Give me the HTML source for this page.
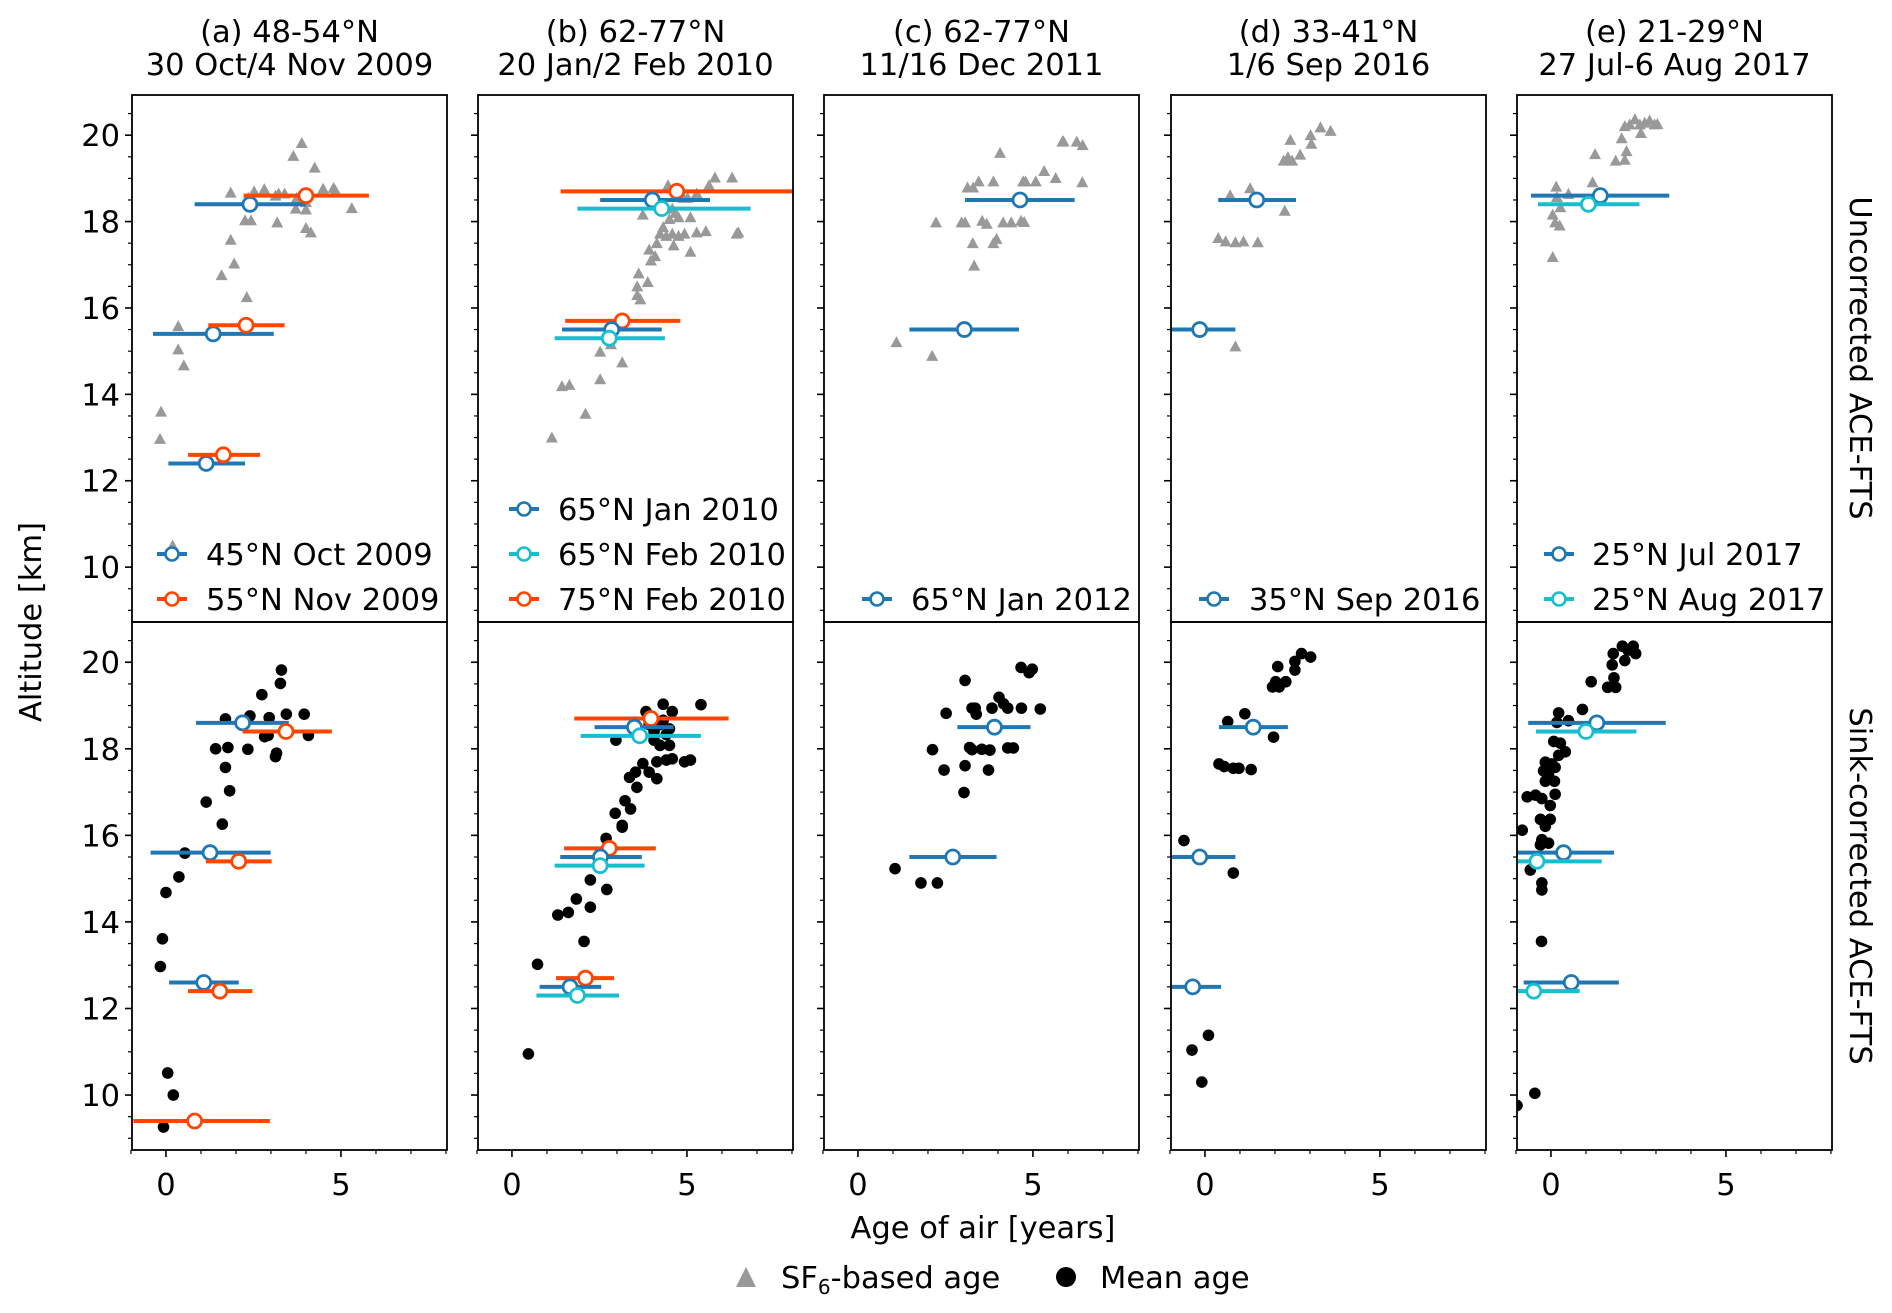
<!DOCTYPE html>
<html><head><meta charset="utf-8">
<style>
html,body{margin:0;padding:0;background:#fff;}
svg{display:block;font-family:"DejaVu Sans","Liberation Sans",sans-serif;}
</style></head>
<body>
<svg id="fig" width="1892" height="1313" viewBox="0 0 1892 1313" xmlns="http://www.w3.org/2000/svg"></svg>
<script>
// ---------- data ----------
const panelTitles1 = ["(a) 48-54°N","(b) 62-77°N","(c) 62-77°N","(d) 33-41°N","(e) 21-29°N"];
const panelTitles2 = ["30 Oct/4 Nov 2009","20 Jan/2 Feb 2010","11/16 Dec 2011","1/6 Sep 2016","27 Jul-6 Aug 2017"];
const xTicks = [0,5];
const yTicks = [10,12,14,16,18,20];
const seriesColors = {b:"#1f77b4", c:"#17becf", o:"#ff4500"};
const legendLabels = [
  [["b","45°N Oct 2009"],["o","55°N Nov 2009"]],
  [["b","65°N Jan 2010"],["c","65°N Feb 2010"],["o","75°N Feb 2010"]],
  [["b","65°N Jan 2012"]],
  [["b","35°N Sep 2016"]],
  [["b","25°N Jul 2017"],["c","25°N Aug 2017"]]
];
// SF6 triangles (top row)
const triX_a = [3.88,3.64,4.25,1.85,1.95,1.59,2.31,0.35,0.35,0.51,-0.14,-0.17,0.19,1.85,2.52,2.81,3.22,3.39,2.26,2.43,3.18,3.71,4.0,4.49,4.79,4.84,5.31,4.0,4.14,2.35,3.13,3.74,4.0];
const triY_a = [19.82,19.52,19.25,17.58,17.03,16.76,16.25,15.58,15.04,14.67,13.6,12.97,10.5,18.67,18.7,18.75,18.65,18.65,18.03,18.03,17.98,18.3,18.28,18.76,18.78,18.72,18.31,17.85,17.75,18.55,18.6,18.55,18.45];
const triX_b = [1.14,2.1,1.43,1.64,2.52,3.15,2.52,2.83,3.62,3.58,3.67,3.88,3.58,3.97,4.09,3.92,4.14,4.62,5.1,5.54,6.42,6.47,5.8,6.29,5.63,3.74,4.23,4.41,4.58,4.76,4.93,5.28,4.5,4.76,5.1,4.58,5.02,5.28,4.46,4.9,4.67,4.32];
const triY_b = [13.0,13.55,14.19,14.22,14.35,14.74,14.99,15.16,16.8,16.5,16.2,16.6,16.3,17.1,17.2,17.35,17.5,17.45,17.3,17.78,17.72,17.75,19.02,19.02,18.84,18.16,17.72,17.67,17.72,17.67,17.72,17.75,18.06,18.1,18.1,18.3,18.55,18.65,18.84,18.55,18.2,17.87];
const triX_c = [5.87,5.84,6.25,6.42,4.06,5.32,5.65,6.41,4.72,4.79,5.08,3.87,3.45,3.13,3.29,2.23,2.96,3.06,3.55,3.68,4.15,4.38,4.66,4.75,3.28,3.87,3.96,3.32,1.1,2.12];
const triY_c = [19.86,19.85,19.85,19.77,19.59,19.17,19.01,18.91,18.93,18.93,18.93,18.93,18.93,18.79,18.79,17.98,17.98,17.98,18.02,17.95,17.98,17.98,18.02,17.99,17.5,17.5,17.6,16.98,15.21,14.89];
const triX_d = [3.3,3.59,3.02,3.04,2.44,2.72,2.37,2.25,2.49,1.29,0.72,2.28,0.38,0.59,0.87,1.1,1.51,0.87];
const triY_d = [20.18,20.1,20.0,19.8,19.89,19.55,19.49,19.41,19.41,18.77,18.61,18.25,17.62,17.54,17.52,17.54,17.52,15.11];
const triX_e = [2.11,2.25,2.4,2.54,2.68,2.82,2.96,3.04,2.57,2.02,2.16,1.26,1.85,2.11,1.19,0.15,0.5,0.17,0.27,0.05,0.12,0.25,0.05];
const triY_e = [20.21,20.25,20.37,20.25,20.29,20.34,20.25,20.26,20.05,19.93,19.63,19.56,19.41,19.43,18.91,18.81,18.64,18.57,18.33,18.16,17.98,17.91,17.18];
// mean-age dots (bottom row)
const dotX_a = [3.3,3.27,2.74,1.7,2.4,2.95,3.44,3.95,1.42,1.77,2.34,2.92,2.82,4.07,3.13,3.16,1.7,1.82,1.15,1.61,0.54,0.37,0.0,-0.1,-0.16,0.05,0.21,-0.07];
const dotY_a = [19.82,19.51,19.25,18.69,18.76,18.72,18.8,18.8,18.0,18.03,17.99,18.31,18.28,18.31,17.82,17.9,17.57,17.03,16.77,16.26,15.59,15.04,14.68,13.61,12.97,10.51,10.0,9.26];
const dotX_b = [0.47,0.73,2.06,1.31,1.61,1.84,2.24,2.24,2.71,2.69,2.95,3.15,3.15,3.23,3.39,3.36,3.53,3.57,3.74,3.92,4.14,2.97,3.83,4.32,5.4,4.06,4.23,4.5,4.14,4.41,4.58,4.93,5.1,4.23,4.5,4.58,4.32,4.06,4.41,3.92];
const dotY_b = [10.95,13.02,13.55,14.16,14.22,14.53,14.34,14.97,14.75,15.93,16.51,16.23,16.19,16.8,16.61,17.34,17.46,17.11,17.66,17.46,17.31,18.2,18.86,19.03,19.02,18.2,18.08,18.08,17.7,17.74,17.77,17.7,17.74,18.56,18.46,18.86,18.66,18.4,18.33,18.56];
const dotX_c = [4.66,4.98,4.89,3.06,4.03,4.16,4.28,4.67,5.21,3.83,3.26,3.35,3.38,2.52,2.13,3.19,3.26,3.54,3.77,4.28,4.44,2.46,3.06,3.73,3.03,1.06,1.8,2.27];
const dotY_c = [19.88,19.84,19.76,19.58,19.19,19.04,18.94,18.94,18.92,18.94,18.94,18.94,18.8,18.82,17.98,18.03,17.98,17.99,17.97,18.02,18.02,17.51,17.61,17.51,16.99,15.23,14.9,14.9];
const dotX_d = [2.76,3.02,2.57,2.57,2.08,2.02,2.31,1.93,2.12,1.14,0.65,1.96,0.4,0.55,0.81,0.97,1.32,-0.6,0.81,0.1,-0.37,-0.09];
const dotY_d = [20.2,20.12,20.02,19.82,19.9,19.55,19.55,19.43,19.43,18.81,18.63,18.27,17.65,17.59,17.55,17.55,17.52,15.88,15.13,11.38,11.04,10.3];
const dotX_e = [2.04,2.35,2.42,2.11,1.78,2.2,1.75,1.8,1.62,1.85,1.15,0.9,0.22,0.5,0.17,0.08,0.27,0.41,0.22,-0.16,0.03,0.12,-0.21,-0.07,0.1,-0.16,-0.68,-0.44,0.12,-0.26,-0.02,-0.3,-0.02,-0.16,-0.82,-0.26,-0.07,-0.3,-0.59,-0.26,-0.26,-0.27,-0.46,-0.97];
const dotY_e = [20.37,20.37,20.2,20.04,20.2,20.28,19.94,19.64,19.42,19.42,19.55,18.91,18.83,18.65,18.61,18.17,18.13,17.93,17.85,17.69,17.65,17.57,17.49,17.41,17.25,17.25,16.89,16.93,16.95,16.85,16.69,16.37,16.37,16.21,16.12,15.9,15.82,15.78,15.2,14.9,14.74,13.55,10.04,9.76];
// error bars: [series, altitude, centre, low, high]
const errTop_a = [["b",18.4,2.4,0.82,4.0],["o",18.6,4.0,2.22,5.8],["b",15.4,1.35,-0.37,3.08],["o",15.6,2.29,1.21,3.39],["b",12.4,1.15,0.07,2.26],["o",12.6,1.64,0.63,2.69]];
const errBot_a = [["b",18.6,2.19,0.86,3.51],["o",18.4,3.43,2.19,4.74],["b",15.6,1.26,-0.44,2.99],["o",15.4,2.08,1.14,3.02],["b",12.6,1.08,0.09,2.08],["o",12.4,1.54,0.63,2.47],["o",9.4,0.82,-0.93,2.97]];
const errTop_b = [["o",18.7,4.71,1.39,9.0],["b",18.5,4.01,2.52,5.66],["c",18.3,4.28,1.87,6.82],["o",15.7,3.15,1.52,4.81],["b",15.5,2.85,1.43,4.28],["c",15.3,2.78,1.22,4.37]];
const errBot_b = [["o",18.7,3.97,1.78,6.19],["b",18.5,3.5,2.36,4.62],["c",18.3,3.65,1.96,5.4],["o",15.7,2.78,1.49,4.11],["b",15.5,2.53,1.38,3.71],["c",15.3,2.52,1.22,3.79],["o",12.7,2.1,1.26,2.92],["b",12.5,1.66,0.79,2.55],["c",12.3,1.87,0.7,3.06]];
const errTop_c = [["b",18.5,4.63,3.06,6.19],["b",15.5,3.04,1.47,4.6]];
const errBot_c = [["b",18.5,3.9,2.84,4.93],["b",15.5,2.71,1.47,3.96]];
const errTop_d = [["b",18.5,1.48,0.38,2.6],["b",15.5,-0.15,-1.5,0.87]];
const errBot_d = [["b",18.5,1.38,0.4,2.37],["b",15.5,-0.15,-1.5,0.87],["b",12.5,-0.35,-1.5,0.46]];
const errTop_e = [["b",18.6,1.41,-0.57,3.38],["c",18.4,1.07,-0.37,2.53]];
const errBot_e = [["b",18.6,1.31,-0.65,3.28],["c",18.4,1.0,-0.43,2.44],["b",15.6,0.36,-1.5,1.8],["c",15.4,-0.4,-1.5,1.45],["b",12.6,0.58,-0.78,1.94],["c",12.4,-0.49,-1.5,0.82]];

const triX=[triX_a,triX_b,triX_c,triX_d,triX_e], triY=[triY_a,triY_b,triY_c,triY_d,triY_e];
const dotX=[dotX_a,dotX_b,dotX_c,dotX_d,dotX_e], dotY=[dotY_a,dotY_b,dotY_c,dotY_d,dotY_e];
const errTop=[errTop_a,errTop_b,errTop_c,errTop_d,errTop_e], errBot=[errBot_a,errBot_b,errBot_c,errBot_d,errBot_e];

// ---------- layout ----------
const NS="http://www.w3.org/2000/svg";
const svg=document.getElementById('fig');
const panelLefts=[132,478,824,1171,1517], PW=315;
const rowTop=[95,622], rowBot=[622,1150];
const XMIN=-0.97, XMAX=8.03, YMIN=8.73, YMAX=20.93;
const FS=30.5;
function el(tag,attrs,parent){const e=document.createElementNS(NS,tag);for(const k in attrs)e.setAttribute(k,attrs[k]);(parent||svg).appendChild(e);return e;}
function sx(p,x){return panelLefts[p]+(x-XMIN)/(XMAX-XMIN)*PW;}
function sy(r,y){return rowBot[r]-(y-YMIN)/(YMAX-YMIN)*(rowBot[r]-rowTop[r]);}
function txt(x,y,s,size,anchor,parent){const t=el('text',{x:x,y:y,'font-size':size,'text-anchor':anchor||'middle',fill:'#000'},parent);t.textContent=s;return t;}

const defs=el('defs',{});
for(let p=0;p<5;p++)for(let r=0;r<2;r++){
  const cp=el('clipPath',{id:'clip'+p+r},defs);
  el('rect',{x:panelLefts[p],y:rowTop[r],width:PW,height:rowBot[r]-rowTop[r]},cp);
}

for(let p=0;p<5;p++){
  const L=panelLefts[p];
  const t1=txt(L+PW/2,42,panelTitles1[p],FS);
  
  
  const t2=txt(L+PW/2,75,panelTitles2[p],FS);
  
  
  for(let r=0;r<2;r++){
    const g=el('g',{});
    
    
    for(let v=9;v<=20.5;v+=0.5){
      const y=sy(r,v); const major=(v%2===0);
      el('line',{x1:L,x2:L-(major?7:4),y1:y,y2:y,stroke:'#000','stroke-width':major?1.6:1.2},g);
    }
    if(p===0){
      yTicks.forEach(v=>{const t=txt(L-12,sy(r,v)+11,String(v),FS,'end',g);
        
        });
    }
    if(r===1){
      for(let v=-1;v<=8;v++){
        const x=sx(p,v); const major=(v%5===0);
        el('line',{x1:x,x2:x,y1:rowBot[1],y2:rowBot[1]+(major?7:4),stroke:'#000','stroke-width':major?1.6:1.2},g);
      }
      xTicks.forEach(v=>{const t=txt(sx(p,v),1195,String(v),FS,'middle',g);
        
        });
    }
    const cg=el('g',{'clip-path':'url(#clip'+p+r+')'},g);
    if(r===0){
      triX[p].forEach((x,i)=>{const cx=sx(p,x),cy=sy(0,triY[p][i]);
        const m=el('polygon',{points:`${cx},${cy-6} ${cx-6},${cy+5} ${cx+6},${cy+5}`,fill:'#999'},cg);
        
        });
    } else {
      dotX[p].forEach((x,i)=>{
        const m=el('circle',{cx:sx(p,x),cy:sy(1,dotY[p][i]),r:5.8,fill:'#000'},cg);
        
        });
    }
    const errs=r===0?errTop[p]:errBot[p];
    errs.forEach(e=>{
      const col=seriesColors[e[0]], y=sy(r,e[1]);
      const ln=el('line',{x1:sx(p,e[3]),x2:sx(p,e[4]),y1:y,y2:y,stroke:col,'stroke-width':4},cg);
      
      
      const c=el('circle',{cx:sx(p,e[2]),cy:y,r:7,fill:'#fff',stroke:col,'stroke-width':2.8},cg);
      
      
    });
    el('rect',{x:L,y:rowTop[r],width:PW,height:rowBot[r]-rowTop[r],fill:'none',stroke:'#000','stroke-width':1.8},g);
  }
  const items=legendLabels[p];
  const lg=el('g',{});
  
  
  const lx=[157,509,862,1199,1544][p], tx=[206,558,911,1249,1592][p];
  items.forEach((it,i)=>{
    const y=599-(items.length-1-i)*45;
    const col=seriesColors[it[0]];
    el('line',{x1:lx,x2:lx+30,y1:y,y2:y,stroke:col,'stroke-width':4},lg);
    el('circle',{cx:lx+15,cy:y,r:6.5,fill:'#fff',stroke:col,'stroke-width':2.6},lg);
    const t=txt(tx,y+11,it[1],FS,'start',lg);
    
    
  });
}
const yl=txt(0,0,'Altitude [km]',FS,'middle');
yl.setAttribute('transform','translate(41,622) rotate(-90)');


const xl=txt(983,1238,'Age of air [years]',FS,'middle');


const r1=txt(0,0,'Uncorrected ACE-FTS',FS,'middle');
r1.setAttribute('transform','translate(1850,358) rotate(90)');


const r2=txt(0,0,'Sink-corrected ACE-FTS',FS,'middle');
r2.setAttribute('transform','translate(1850,886) rotate(90)');


const bl=el('g',{});


el('polygon',{points:'746,1267 736,1287 756,1287',fill:'#999'},bl);
const s1=el('text',{x:781,y:1288,'font-size':FS},bl);
s1.innerHTML='SF<tspan font-size="20" dy="6">6</tspan><tspan dy="-6">-based age</tspan>';


el('circle',{cx:1066,cy:1277,r:10,fill:'#000'},bl);
const s2=txt(1100,1288,'Mean age',FS,'start',bl);


</script>
</body></html>
